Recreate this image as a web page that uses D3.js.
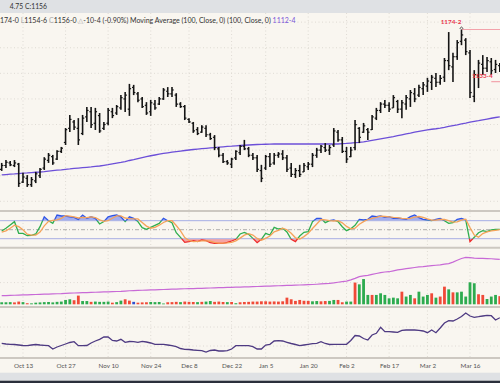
<!DOCTYPE html>
<html><head><meta charset="utf-8">
<script src="https://cdn.jsdelivr.net/npm/d3@7"></script>
<style>
html,body{margin:0;padding:0;background:#f9f6f0;}
svg{display:block;font-family:Lato,"Open Sans",sans-serif;}
</style></head><body>
<svg id="c" width="500" height="383"></svg>
<script>
// ---- data (bar index 0 = Oct 6, 2025 ... 117 = Mar 25, 2026) ----
const tickIndex = [5,15,25,35,44,54,62,72,81,91,100,110];
const tickLabels = ["Oct 13","Oct 27","Nov 10","Nov 24","Dec 8","Dec 22","Jan 5","Jan 20","Feb 2","Feb 17","Mar 2","Mar 16"];

const opens = [1065,1068,1070,1068,1069,1055,1058,1053,1056,1060,
1066,1072,1075,1073,1079,1086,1097,1102,1097,1093,
1106,1110,1101,1107,1097,1101,1110,1109,1113,1120,
1112,1129,1124,1120,1115,1110,1116,1116,1120,1126,
1124,1123,1116,1114,1104,1101,1096,1094,1097,1092,
1090,1081,1076,1071,1069,1074,1078,1083,1081,1076,
1074,1064,1066,1075,1070,1076,1077,1074,1066,1061,
1064,1063,1067,1069,1076,1080,1082,1080,1084,1094,
1088,1079,1075,1082,1097,1094,1096,1096,1105,1111,
1116,1115,1113,1118,1112,1116,1120,1124,1123,1128,
1130,1133,1136,1133,1137,1150,1145,1153,1165,1166,
1156,1122,1138,1147,1144,1149,1143,1146];
const highs = [1070,1072.25,1071.5,1072.25,1070,1062.25,1060.5,1059,1063,1066,
1074.5,1077.75,1076.25,1080,1082.5,1097.25,1107.5,1103.5,1105,1107.5,
1113.75,1113.75,1113,1109,1102,1113,1113,1115.25,1123,1125.5,
1131.75,1131,1125.5,1121.5,1117.5,1119.25,1119.25,1121.5,1128.5,1129.25,
1129.25,1124.5,1117.5,1115.25,1105,1102,1098,1099.5,1099.5,1093.5,
1091.75,1082.5,1077.75,1072.25,1074,1080,1084,1088,1082.5,1077.75,
1076.25,1068.5,1076.25,1077.75,1077.75,1078.5,1080,1076.25,1070,1066,
1068.5,1070,1070.75,1077.75,1081.75,1084,1085.5,1084,1097.25,1095.75,
1090.25,1082.5,1082.5,1103.5,1098,1101.25,1097.25,1107.5,1113,1117.5,
1119.25,1117.5,1123,1119.25,1119.25,1123,1127,1128.5,1131,1133.25,
1136.5,1138.75,1140.25,1138.75,1152,1172.25,1156,1166,1174.25,1167.5,
1158.25,1142.5,1150.5,1154.25,1152.75,1152,1150.5,1148];
const lows = [1063.75,1066,1067.5,1066.75,1051.25,1054.25,1051.25,1051.25,1054.25,1058.25,
1064.5,1070,1068.5,1072.25,1077.75,1084,1094.25,1095.75,1084,1091.75,
1102,1097.25,1095.75,1093.5,1095.75,1099.5,1105,1107.5,1111.5,1109.75,
1106.75,1123,1117.5,1113,1107.5,1106.75,1111.5,1115.25,1119.25,1121.5,
1121.5,1113.75,1113,1103.5,1101.25,1093.5,1091.75,1093.5,1090.25,1088,
1080,1074.5,1070,1068.5,1066,1072.25,1076.25,1080,1074.5,1072.25,
1063,1055,1064.5,1066.75,1068.5,1074,1072.25,1063,1059,1058.25,
1059,1063,1064.5,1066.75,1074,1077.75,1078.5,1076.25,1082.5,1086.5,
1077.75,1070,1074.5,1080,1085.5,1093.5,1088,1095.75,1103.5,1109,
1113,1109.75,1113,1109,1105,1111.5,1113.75,1117.5,1121.5,1123,
1125.5,1127,1129.25,1131,1133.25,1142.5,1133.25,1150.5,1162,1154.25,
1120.75,1117.5,1128.5,1138.75,1141,1138.75,1140.25,1141];
const closes = [1068,1070.5,1068.5,1070,1054,1059,1053,1057,1061.5,1065,
1073,1076,1070,1079,1081.5,1096,1104,1098,1088,1105,
1111,1100,1110,1095,1100,1111,1107,1114,1121,1123,
1128,1125,1119,1114,1109,1117,1113,1120,1127,1124,
1127,1116,1114,1105,1102,1095,1093,1098,1092,1089,
1082,1076,1071,1070,1073,1079,1083,1081,1076,1074,
1065,1058,1075,1069,1076,1077,1074,1065,1061,1064,
1061,1068,1069,1076,1080,1083,1080,1082,1095,1088,
1079,1073,1080,1100,1090,1099,1094,1106,1111,1116,
1115,1112,1121,1112,1117,1121,1125,1120,1129,1131,
1134,1137,1133,1136,1150,1146,1153,1164,1170,1157,
1125,1139,1148,1144,1150,1142,1147,1144];
const movingAvg = [1060.6,1060.9,1061.2,1061.4,1061.7,1062.0,1062.2,1062.5,1062.7,1062.9,
1063.2,1063.6,1064.0,1064.3,1064.6,1065.0,1065.3,1065.7,1066.0,1066.3,
1066.6,1066.9,1067.3,1067.6,1068.1,1068.6,1069.2,1069.8,1070.4,1071.1,
1071.9,1072.6,1073.4,1074.2,1074.9,1075.6,1076.2,1076.8,1077.4,1077.9,
1078.4,1078.9,1079.3,1079.7,1080.1,1080.5,1080.8,1081.1,1081.4,1081.7,
1082.0,1082.3,1082.6,1082.9,1083.1,1083.4,1083.6,1083.8,1084.0,1084.2,
1084.4,1084.5,1084.6,1084.7,1084.8,1084.8,1084.8,1084.8,1084.8,1084.8,
1084.8,1084.8,1084.8,1084.8,1084.8,1084.8,1084.8,1084.8,1084.8,1084.8,
1085.0,1085.2,1085.5,1085.8,1086.1,1086.5,1087.0,1087.6,1088.2,1088.8,
1089.4,1090.0,1090.6,1091.3,1092.0,1092.7,1093.3,1094.0,1094.6,1095.2,
1095.8,1096.3,1096.7,1097.2,1097.8,1098.5,1099.2,1099.8,1100.5,1101.1,
1101.8,1102.4,1103.0,1103.7,1104.3,1104.9,1105.5,1106.0];
const stochK = [45.7,54.6,65.7,76.8,37.9,37.9,30,31,35.7,60,
93,80,71,99,95.7,95.7,93,91,84.5,99,
88,93,88,69,77,93,96.7,99,93,77,
93,88,77,56.8,51,58,64.6,71,88,80,
73.5,40,24.6,7.9,10.1,13.4,10.1,15.7,13.4,6.8,
4.6,4.6,4.6,7.9,12.3,17.9,35.7,41.2,34.6,21.2,
6.8,17.9,37.9,32.3,57.9,52.3,54.6,42.3,17.9,10.1,
29,41.2,43.4,76.8,88,88,73.5,80,82.3,76.8,
60,46.8,53.5,64.6,84.5,82.3,84.5,95.7,93.4,95.7,
91.2,93.4,87.9,89,86.8,84.5,93.4,99,90,84.5,
82.3,80,84.5,87.9,80,71.2,73.5,84.5,87.9,82.3,
10.1,24.6,40,46.8,43.4,49,51.2,51.2];
const stochD = [42,46,55,65,60,50,35,32,32,42,
63,78,81,83,88,97,95,93,89,91,
90,93,90,83,78,80,88,96,96,89,
87,86,86,74,62,55,58,65,74,80,
80,64,46,24,14,10,11,13,13,12,
8,5,5,6,8,13,22,32,37,32,
21,15,21,29,43,48,55,50,38,23,
19,27,38,54,69,84,83,80,79,80,
73,61,53,55,68,77,84,88,91,95,
94,93,91,90,88,87,88,92,94,91,
86,82,82,84,84,80,75,76,82,85,
57,32,25,37,43,46,48,50];
const volume = [15,15,16,14,20,16,8,7,12,14,
16,17,14,18,20,32,37,30,64,24,
24,18,20,18,18,20,12,16,27,37,
27,18,12,14,15,17,16,17,6,15,
16,18,16,20,18,17,16,18,20,24,
18,20,17,16,17,8,15,17,18,20,
20,22,22,20,21,20,22,49,37,25,
32,26,25,22,24,22,24,25,32,32,
15,20,20,160,147,186,69,69,69,81,
69,44,49,44,93,57,69,44,93,57,
69,81,49,57,130,110,88,88,93,57,
162,155,74,69,39,57,69,60];
const volumeDir = "gggrrgrgggggggggg" + "rrgg" + "rgggg" + "rgg" + "rr" + "brrrgggg" + "rrrgrrrgrggrrrgrgrrrrrrrrrrrrrrrrr" + "ggrrggrrggr" + "gggrggggggrgg" + "rgggrgrrgrgggggrrgggrrggrrgg";
const openInterest = [278.5,279,279.5,280,280.5,281,281.5,282,282.5,283,
283.5,284,284.5,285,285.5,286.5,287,287.5,288,288.5,
289,289.5,290,290.5,291,291.5,292,292.5,293,294,
295,295.5,296,296.5,297,297.5,298,298.5,299,299.5,
300,300.5,301,301.5,301.7,302,302.5,303,303.5,304,
304.5,305,305.5,306,306.3,306.7,307,307.5,308,308.5,
309,309.5,310,310.5,311,311.5,312,312.5,313,313.5,
314,314.5,315,315.7,316.5,317.5,318.5,319.5,321,323,
325,327,331,336,341.5,344,346,349,352,355,
357,358,361,364,366,368,370,372,374,375,
376.5,378,379.5,381,383,385,390,396,402,405.8,
405,403,402.5,402,401.5,401,400,399];
const lowerStudy = [29.4,28,27.4,27,26,25,24.6,26,27,26,
25.4,24.6,18,22,25,28,31,32.6,24.6,24.6,
25,30,34,37.4,42,42,35,34,37.4,31.4,
33,32.6,31.4,33.4,32,30,27.4,27.4,27.4,26,
24.6,22.6,19,17.4,17,16,15.4,14.6,12,15,
16,14,14,14.6,18,24.6,24.6,24.6,24.6,22.6,
18,18,26,27.4,34,34.6,34,31.4,29,27,
24.6,26,27.4,28.6,29.4,32.6,29,27,27.4,27.4,
27.4,27.4,35,45,44,39,36,46,49.4,61.4,
52.6,52.6,52,51.4,55.4,56,56,56,55.4,54,
50.6,56,50.6,60,70,74.6,74,78,83,90,
84,81.4,82.6,84,85.4,84.6,76,80.6];
const priceGrid = [1180,1160,1140,1120,1100,1080,1060,1040];
const stochLevels = [80,50,20];
const highMark = {index:108, value:1174.25, label:"1174-2"};
const lowMark = {index:115, value:1133.5, label:"1133-4"};

// ---- drawing ----
const svg = d3.select("#c");
const x = d3.scaleLinear().domain([0,117]).range([1.7,499.8]);
const yP = d3.scaleLinear().domain([1034,1187.14]).range([209,13]);
const yS = d3.scaleLinear().domain([0,100]).range([244.7,214.7]);
const yV = d3.scaleLinear().domain([0,400]).range([304.3,250]);
const yOI = d3.scaleLinear().domain([250,430]).range([304.3,250]);
const yB = d3.scaleLinear().domain([0,100]).range([358,308]);
const idx = d3.range(opens.length);

svg.append("rect").attr("width",500).attr("height",383).attr("fill","#f9f6f0");

// grid
const grid = svg.append("g").attr("stroke","#d8d4cd").attr("stroke-width",0.8).attr("stroke-dasharray","1,2.5");
grid.selectAll(".vg").data(tickIndex).join("line")
  .attr("x1",d=>x(d)).attr("x2",d=>x(d)).attr("y1",13).attr("y2",358);
grid.selectAll(".hg").data(priceGrid).join("line")
  .attr("x1",0).attr("x2",500).attr("y1",d=>yP(d)).attr("y2",d=>yP(d));
grid.selectAll(".bg").data([24,62]).join("line")
  .attr("x1",0).attr("x2",500).attr("y1",d=>yB(d)).attr("y2",d=>yB(d));
grid.append("line").attr("x1",0).attr("x2",500).attr("y1",yV(160)).attr("y2",yV(160));

// panel separators
const sep = svg.append("g").attr("stroke","#cdc8c1").attr("stroke-width",2);
[yS(112),yS(-10),307,358].forEach(v=>sep.append("line").attr("x1",0).attr("x2",500).attr("y1",v).attr("y2",v));

// header bars
svg.append("rect").attr("x",0).attr("y",0).attr("width",500).attr("height",13).attr("fill","#dfe1e4");
svg.append("rect").attr("x",0).attr("y",372.7).attr("width",500).attr("height",8).attr("fill","#dfe1e4");
svg.append("rect").attr("x",0).attr("y",380.7).attr("width",500).attr("height",2.3).attr("fill","#2a2f3b");

svg.append("text").attr("x",47).attr("y",9).attr("text-anchor","end").attr("font-size",6.8).attr("fill","#333")
  .text("4.75 C:1156");

const leg = svg.append("text").attr("x",0).attr("y",22.5).attr("font-size",7).attr("fill","#333");
[["174-0 ","#333"],["L","#aaa"],["1154-6 ","#333"],["C","#aaa"],["1156-0 ","#333"],["\u25B3","#aaa"],
 ["-10-4 (-0.90%) Moving Average (100, Close, 0) (100, Close, 0) ","#333"],["1112-4","#7a55d8"]]
 .forEach(([t,c])=>leg.append("tspan").attr("fill",c).text(t));

// moving average
svg.append("path").datum(idx).attr("fill","none").attr("stroke","#6c4fd8").attr("stroke-width",1.3)
  .attr("d",d3.line().x(i=>x(i)).y(i=>yP(movingAvg[i])));

// high / low markers
svg.append("line").attr("x1",x(highMark.index)).attr("x2",500).attr("y1",yP(highMark.value)).attr("y2",yP(highMark.value))
  .attr("stroke","#f3a3ab").attr("stroke-width",1.2);
svg.append("line").attr("x1",x(lowMark.index)).attr("x2",500).attr("y1",yP(lowMark.value)).attr("y2",yP(lowMark.value))
  .attr("stroke","#f3a3ab").attr("stroke-width",1.2);

// OHLC bars
const bars = svg.append("g").attr("stroke","#151515");
bars.selectAll(".hl").data(idx).join("line").attr("stroke-width",1.6)
  .attr("x1",i=>x(i)).attr("x2",i=>x(i)).attr("y1",i=>yP(highs[i])).attr("y2",i=>yP(lows[i]));
bars.selectAll(".op").data(idx).join("line").attr("stroke-width",1.2)
  .attr("x1",i=>x(i)-1.7).attr("x2",i=>x(i)).attr("y1",i=>yP(opens[i])).attr("y2",i=>yP(opens[i]));
bars.selectAll(".cl").data(idx).join("line").attr("stroke-width",1.2)
  .attr("x1",i=>x(i)).attr("x2",i=>x(i)+1.7).attr("y1",i=>yP(closes[i])).attr("y2",i=>yP(closes[i]));

svg.append("path").attr("fill","none").attr("stroke","#333").attr("stroke-width",0.8)
  .attr("d",`M${x(highMark.index)-1.6},${yP(highMark.value)-0.5} Q${x(highMark.index)},${yP(highMark.value)-4.5} ${x(highMark.index)+1.6},${yP(highMark.value)-0.5}`);
svg.append("text").attr("x",x(highMark.index)-10.5).attr("y",yP(highMark.value)-5).attr("text-anchor","middle")
  .attr("font-size",6.3).attr("font-weight","bold").attr("fill","#e8364c").text(highMark.label);
svg.append("text").attr("x",x(lowMark.index)-9).attr("y",yP(lowMark.value)-4).attr("text-anchor","middle")
  .attr("font-size",6.3).attr("font-weight","bold").attr("fill","#e8364c").text(lowMark.label);

// stochastics
const defs = svg.append("defs");
defs.append("clipPath").attr("id","cTop").append("rect").attr("x",0).attr("y",200).attr("width",500).attr("height",yS(80)-200);
defs.append("clipPath").attr("id","cMid").append("rect").attr("x",0).attr("y",yS(80)).attr("width",500).attr("height",yS(20)-yS(80));
defs.append("clipPath").attr("id","cBot").append("rect").attr("x",0).attr("y",yS(20)).attr("width",500).attr("height",30);
svg.append("path").datum(idx).attr("clip-path","url(#cTop)").attr("fill","#a3aef0")
  .attr("d",d3.area().x(i=>x(i)).y0(yS(80)).y1(i=>yS(stochK[i])));
svg.append("path").datum(idx).attr("clip-path","url(#cBot)").attr("fill","#f6a4a4")
  .attr("d",d3.area().x(i=>x(i)).y0(yS(20)).y1(i=>yS(stochK[i])));
stochLevels.forEach(v=>{
  const l = svg.append("line").attr("x1",0).attr("x2",500).attr("y1",yS(v)).attr("y2",yS(v));
  if(v===50) l.attr("stroke","#9c9c9c").attr("stroke-width",0.8).attr("stroke-dasharray","4,2,1,2");
  else l.attr("stroke","#a8b0e6").attr("stroke-width",1);
});
const kLine = d3.line().x(i=>x(i)).y(i=>yS(stochK[i]));
[["cTop","#2f55e6"],["cMid","#2fae4e"],["cBot","#ee2b2b"]].forEach(([c,col])=>
  svg.append("path").datum(idx).attr("clip-path",`url(#${c})`).attr("fill","none").attr("stroke",col).attr("stroke-width",1.3).attr("d",kLine));
svg.append("path").datum(idx).attr("fill","none").attr("stroke","#f5a35a").attr("stroke-width",1.3)
  .attr("d",d3.line().x(i=>x(i)).y(i=>yS(stochD[i])));

// volume
const vcol = {g:"#2dab4f",r:"#f04a38",b:"#2f4fcf"};
svg.append("g").selectAll("rect").data(idx).join("rect")
  .attr("x",i=>x(i)-1.4).attr("width",2.8)
  .attr("y",i=>yV(volume[i])).attr("height",i=>yV(0)-yV(volume[i]))
  .attr("fill",i=>vcol[volumeDir[i]]);
svg.append("path").datum(idx).attr("fill","none").attr("stroke","#c86ad6").attr("stroke-width",1.2)
  .attr("d",d3.line().x(i=>x(i)).y(i=>yOI(openInterest[i])));

// lower study
svg.append("path").datum(idx).attr("fill","none").attr("stroke","#4e3a82").attr("stroke-width",1.3)
  .attr("d",d3.line().x(i=>x(i)).y(i=>yB(lowerStudy[i])));

// x axis
const ax = svg.append("g").attr("transform","translate(0,358)")
  .call(d3.axisBottom(x).tickValues(tickIndex).tickFormat((d,k)=>tickLabels[k]).tickSize(0).tickPadding(6));
ax.select(".domain").remove();
ax.selectAll("text").attr("font-size",6.3).attr("fill","#555").attr("font-family","Lato, sans-serif");
</script>
</body></html>
